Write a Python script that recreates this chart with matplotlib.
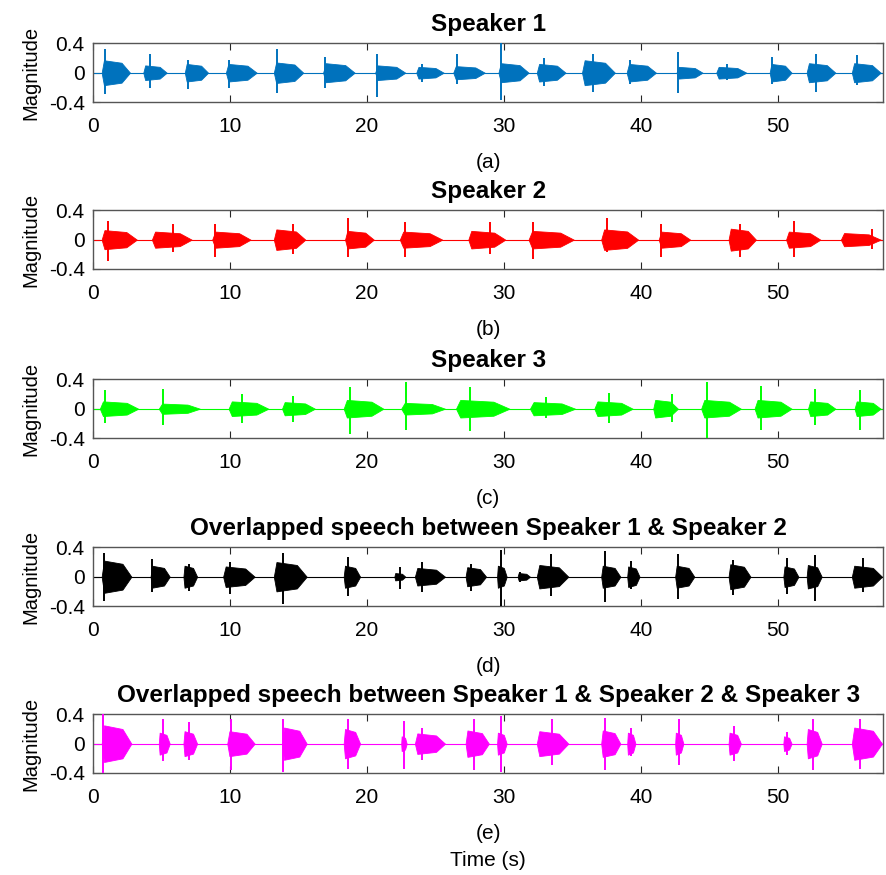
import numpy as np
import matplotlib
matplotlib.use("Agg")
import matplotlib.pyplot as plt

plt.rcParams['font.family'] = ['Liberation Sans', 'DejaVu Sans']

# burst data: start / end (s), peak time (s),
# peak up, peak down, typical body amplitude
s1_start = [0.63, 3.67, 6.7, 9.7, 13.2, 16.8, 20.6, 23.6, 26.3, 29.6, 32.4, 35.7, 38.96, 42.6, 45.5, 49.4, 52.1, 55.4]
s1_end = [2.7, 5.38, 8.4, 11.95, 15.35, 19.1, 22.8, 25.6, 28.6, 31.8, 34.5, 38.1, 41.1, 44.5, 47.7, 51.0, 54.2, 57.5]
s1_peak = [0.88, 4.16, 6.9, 9.9, 13.4, 16.9, 20.7, 24.0, 26.6, 29.8, 32.9, 36.5, 39.2, 42.7, 46.3, 49.6, 52.8, 55.8]
s1_up = [0.33, 0.26, 0.17, 0.17, 0.32, 0.22, 0.26, 0.12, 0.25, 0.40, 0.20, 0.26, 0.17, 0.28, 0.12, 0.22, 0.25, 0.24]
s1_down = [-0.29, -0.21, -0.22, -0.21, -0.28, -0.21, -0.33, -0.12, -0.15, -0.37, -0.18, -0.26, -0.15, -0.28, -0.10, -0.16, -0.26, -0.17]
s1_body = [0.17, 0.10, 0.12, 0.12, 0.14, 0.13, 0.10, 0.08, 0.09, 0.13, 0.12, 0.17, 0.12, 0.08, 0.08, 0.12, 0.13, 0.13]

s2_start = [0.63, 4.3, 8.7, 13.2, 18.4, 22.4, 27.4, 31.8, 37.1, 41.3, 46.4, 50.6, 54.6]
s2_end = [3.2, 7.2, 11.5, 15.5, 20.5, 25.5, 30.1, 35.1, 39.8, 43.6, 48.4, 53.1, 57.5]
s2_peak = [1.1, 5.85, 8.9, 14.6, 18.6, 22.8, 29.0, 32.1, 37.5, 41.5, 47.2, 51.2, 56.9]
s2_up = [0.26, 0.22, 0.22, 0.22, 0.29, 0.24, 0.24, 0.24, 0.29, 0.22, 0.22, 0.26, 0.15]
s2_down = [-0.29, -0.17, -0.24, -0.20, -0.24, -0.24, -0.20, -0.26, -0.17, -0.23, -0.24, -0.23, -0.13]
s2_body = [0.13, 0.11, 0.11, 0.14, 0.12, 0.11, 0.12, 0.12, 0.14, 0.11, 0.15, 0.11, 0.09]

s3_start = [0.5, 4.8, 9.9, 13.8, 18.3, 22.5, 26.5, 31.9, 36.6, 40.9, 44.4, 48.3, 52.2, 55.6]
s3_end = [3.3, 7.8, 12.8, 16.2, 21.2, 25.7, 30.4, 35.2, 39.4, 42.7, 47.3, 51.0, 54.2, 57.5]
s3_peak = [0.9, 5.1, 10.85, 14.6, 18.75, 22.85, 27.5, 33.1, 37.7, 42.3, 44.8, 48.8, 52.7, 56.0]
s3_up = [0.25, 0.27, 0.20, 0.18, 0.29, 0.37, 0.30, 0.16, 0.22, 0.20, 0.37, 0.31, 0.27, 0.25]
s3_down = [-0.20, -0.22, -0.19, -0.18, -0.34, -0.29, -0.31, -0.13, -0.20, -0.18, -0.40, -0.29, -0.22, -0.29]
s3_body = [0.10, 0.07, 0.10, 0.09, 0.12, 0.08, 0.12, 0.09, 0.10, 0.12, 0.12, 0.12, 0.10, 0.10]

s12_start = [0.63, 4.2, 6.6, 9.5, 13.2, 18.3, 22.0, 23.5, 27.2, 29.5, 31.0, 32.4, 37.1, 39.0, 42.5, 46.4, 50.4, 52.1, 55.4]
s12_end = [2.8, 5.6, 7.6, 11.8, 15.6, 19.5, 22.8, 25.7, 28.7, 30.2, 31.9, 34.7, 38.5, 39.9, 43.9, 48.0, 51.5, 53.2, 57.6]
s12_peak = [0.8, 4.3, 7.0, 10.0, 13.9, 18.6, 22.4, 24.0, 27.6, 29.8, 31.2, 33.4, 37.4, 39.3, 42.7, 46.7, 50.7, 52.7, 56.2]
s12_up = [0.33, 0.24, 0.18, 0.20, 0.33, 0.27, 0.13, 0.20, 0.18, 0.36, 0.07, 0.31, 0.35, 0.22, 0.31, 0.23, 0.25, 0.29, 0.25]
s12_down = [-0.33, -0.21, -0.20, -0.24, -0.37, -0.27, -0.17, -0.21, -0.19, -0.40, -0.07, -0.26, -0.35, -0.17, -0.30, -0.25, -0.24, -0.33, -0.21]
s12_body = [0.22, 0.15, 0.15, 0.14, 0.20, 0.15, 0.05, 0.12, 0.13, 0.15, 0.05, 0.16, 0.15, 0.14, 0.15, 0.17, 0.14, 0.16, 0.15]

s123_start = [0.63, 4.8, 6.6, 9.8, 13.8, 18.3, 22.5, 23.5, 27.2, 29.5, 32.4, 37.1, 39.0, 42.5, 46.4, 50.4, 52.1, 55.4]
s123_end = [2.8, 5.6, 7.6, 11.8, 15.6, 19.5, 22.9, 25.7, 28.9, 30.2, 34.7, 38.5, 39.6, 43.1, 47.3, 51.0, 53.2, 57.6]
s123_peak = [0.7, 5.1, 7.0, 10.1, 13.9, 18.6, 22.7, 24.0, 27.8, 29.8, 33.5, 37.4, 39.3, 42.8, 46.8, 50.7, 52.6, 56.0]
s123_up = [0.40, 0.33, 0.29, 0.33, 0.33, 0.33, 0.31, 0.22, 0.33, 0.38, 0.33, 0.35, 0.22, 0.33, 0.24, 0.16, 0.33, 0.34]
s123_down = [-0.40, -0.24, -0.22, -0.36, -0.38, -0.35, -0.34, -0.22, -0.36, -0.38, -0.29, -0.36, -0.17, -0.29, -0.24, -0.15, -0.36, -0.34]
s123_body = [0.25, 0.15, 0.17, 0.17, 0.22, 0.20, 0.10, 0.14, 0.18, 0.15, 0.17, 0.18, 0.15, 0.15, 0.15, 0.10, 0.20, 0.22]

titles = ["Speaker 1", "Speaker 2", "Speaker 3",
          "Overlapped speech between Speaker 1 & Speaker 2",
          "Overlapped speech between Speaker 1 & Speaker 2 & Speaker 3"]
letters = ["(a)", "(b)", "(c)", "(d)", "(e)"]
colors = ["#0072BD", "#FF0000", "#00FF00", "#000000", "#FF00FF"]
panels = [
    (s1_start, s1_end, s1_peak, s1_up, s1_down, s1_body),
    (s2_start, s2_end, s2_peak, s2_up, s2_down, s2_body),
    (s3_start, s3_end, s3_peak, s3_up, s3_down, s3_body),
    (s12_start, s12_end, s12_peak, s12_up, s12_down, s12_body),
    (s123_start, s123_end, s123_peak, s123_up, s123_down, s123_body),
]

x_max = 57.7
bottoms = [0.8834, 0.6926, 0.4994, 0.3074, 0.1166]

fig = plt.figure(figsize=(8.86, 8.75), dpi=100)

for i, (start, end, peak, up, down, body) in enumerate(panels):
    ax = fig.add_axes([0.105, bottoms[i], 0.892, 0.067])
    c = colors[i]
    # silent baseline
    ax.plot([0, x_max], [0, 0], color=c, lw=0.8, zorder=2)
    for t0, t1, tp, u, d, b in zip(start, end, peak, up, down, body):
        dur = t1 - t0
        xs = [t0, t0 + 0.08 * dur, t1 - 0.3 * dur, t1]
        ax.fill_between(xs, [0, b, 0.8 * b, 0], [0, -b, -0.8 * b, 0],
                        color=c, lw=0.6, zorder=3)
        ax.vlines(tp, d, u, color=c, lw=1.4, zorder=3)
    ax.set_xlim(0, x_max)
    ax.set_ylim(-0.4, 0.4)
    ax.set_xticks([0, 10, 20, 30, 40, 50])
    ax.set_yticks([-0.4, 0, 0.4])
    ax.set_yticklabels(["-0.4", "0", "0.4"])
    ax.tick_params(direction="in", top=True, right=True, labelsize=15,
                   length=5, color="#262626")
    ax.tick_params(axis="x", pad=11)
    ax.tick_params(axis="y", pad=6)
    for sp in ax.spines.values():
        sp.set_color("#555555")
        sp.set_linewidth(1.0)
    ax.set_title(titles[i], fontsize=17.5, fontweight="bold", pad=9)
    ax.set_ylabel("Magnitude", fontsize=14.5, labelpad=6)
    ax.set_xlabel(letters[i], fontsize=15, labelpad=12)

fig.text(0.551, 1 - 861 / 875, "Time (s)", ha="center", va="center", fontsize=15)

fig.savefig("out.png", dpi=100)
